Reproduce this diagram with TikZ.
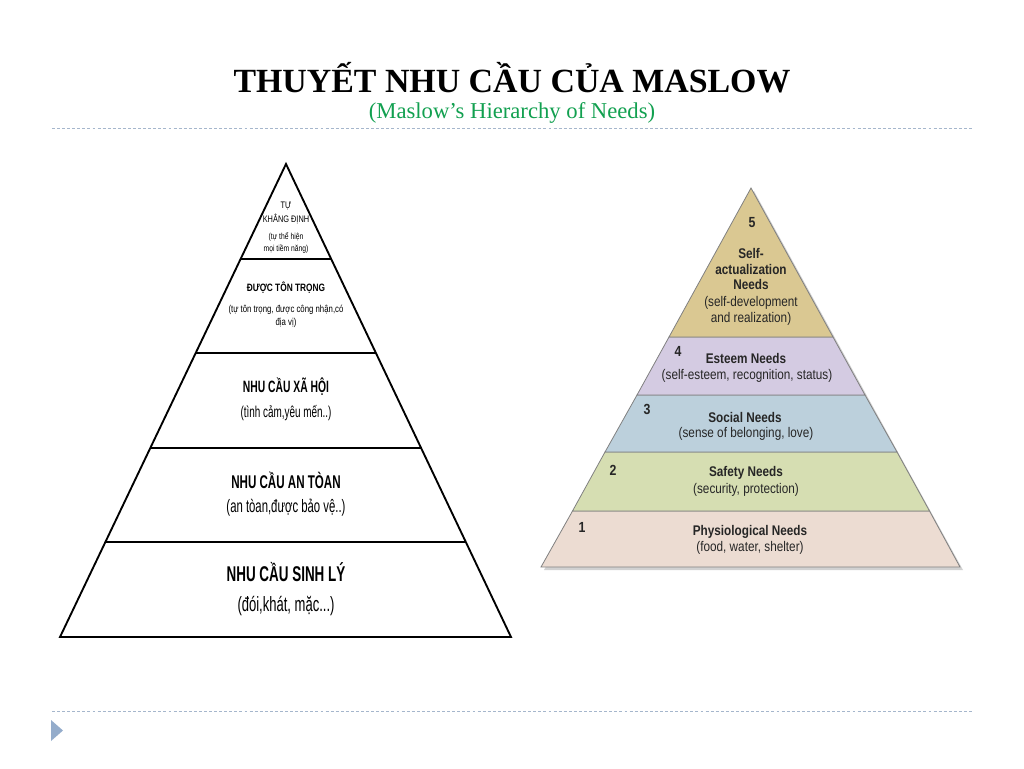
\documentclass[tikz,border=0pt]{standalone}
\usepackage{fontspec}
\setmainfont{Liberation Serif}
\newfontfamily\smallsf[FakeStretch=0.78]{Liberation Sans}
\newfontfamily\narrowsf[FakeStretch=0.63]{Liberation Sans}
\newfontfamily\condsf[FakeStretch=0.84]{Liberation Sans}
\usepackage{tikz}
\usetikzlibrary{positioning}

\definecolor{titlegreen}{RGB}{18,160,80}
\definecolor{rulegray}{RGB}{165,182,204}
\definecolor{bullet}{RGB}{148,172,203}
\definecolor{selfcol}{RGB}{218,200,146}
\definecolor{esteemcol}{RGB}{212,203,226}
\definecolor{socialcol}{RGB}{188,208,220}
\definecolor{safetycol}{RGB}{214,222,178}
\definecolor{physcol}{RGB}{236,220,210}
\definecolor{edgegray}{RGB}{128,128,128}

\tikzset{
  rule/.style={rulegray,line width=0.7pt,dash pattern=on 2.2pt off 1.6pt},
  leftline/.style={black,line width=1.4pt},
  band/.style={draw=edgegray,line width=0.6pt},
  lhead/.style={inner sep=0,align=center},
  lsub/.style={inner sep=0,align=center},
  rnum/.style={inner sep=0,font=\condsf\bfseries\fontsize{11}{12}\selectfont,text=black!85},
  rhead/.style={inner sep=0,align=center,font=\condsf\bfseries\fontsize{10.5}{11.4}\selectfont,text=black!85},
  rsub/.style={inner sep=0,align=center,font=\condsf\fontsize{10.5}{12.4}\selectfont,text=black!85}
}

\begin{document}
\begin{tikzpicture}[x=0.75pt,y=-0.75pt]
\useasboundingbox (0,0) rectangle (1024,768);

% title
\node[inner sep=0,font=\bfseries\fontsize{25.4}{29}\selectfont] (title) at (512,78) {THUYẾT NHU CẦU CỦA MASLOW};
\node[inner sep=0,text=titlegreen,font=\fontsize{17}{20}\selectfont] (subtitle) at (512,113) {(Maslow’s Hierarchy of Needs)};
\draw[rule] (52,128) -- (972,128);
\draw[rule] (52,711) -- (972,711);
\fill[bullet] (51,720) -- (63,730.5) -- (51,741) -- cycle;

% left pyramid
\draw[leftline,line join=miter] (60,637) -- (286,164) -- (511,637) -- cycle;
\draw[leftline] (241,259) -- (331,259);
\draw[leftline] (196,353) -- (376,353);
\draw[leftline] (150,448) -- (421,448);
\draw[leftline] (105,542) -- (466,542);

\node[lhead,font=\smallsf\fontsize{7.1}{10.5}\selectfont] (self) at (286,213) {TỰ\\KHẲNG ĐỊNH};
\node[lsub,font=\smallsf\fontsize{6.5}{9}\selectfont] (selfsub) at (286,243) {(tự thể hiện\\mọi tiềm năng)};
\node[lhead,font=\smallsf\bfseries\fontsize{8}{10}\selectfont] (esteem) at (286,288) {ĐƯỢC TÔN TRỌNG};
\node[lsub,font=\smallsf\fontsize{7.5}{9.8}\selectfont] (esteemsub) at (286,316) {(tự tôn trọng, được công nhận,có\\địa vị)};
\node[lhead,font=\narrowsf\bfseries\fontsize{12.3}{14}\selectfont] (social) at (286,387) {NHU CẦU XÃ HỘI};
\node[lsub,font=\narrowsf\fontsize{11.8}{14}\selectfont] (socialsub) at (286,413) {(tình cảm,yêu mến..)};
\node[lhead,font=\narrowsf\bfseries\fontsize{13.8}{16}\selectfont] (safety) at (286,480) {NHU CẦU AN TÒAN};
\node[lsub,font=\narrowsf\fontsize{13.5}{16}\selectfont] (safetysub) at (286,508) {(an tòan,được bảo vệ..)};
\node[lhead,font=\narrowsf\bfseries\fontsize{16}{18}\selectfont] (phys) at (286,572) {NHU CẦU SINH LÝ};
\node[lsub,font=\narrowsf\fontsize{15.5}{18}\selectfont] (physsub) at (286,606) {(đói,khát, mặc...)};

% right pyramid
\fill[black!18] (544,570) -- (754,191) -- (963,570) -- cycle;
\draw[band,fill=physcol] (541,567) -- (572.5,511) -- (929.5,511) -- (960,567) -- cycle;
\draw[band,fill=safetycol] (572.5,511) -- (605,452) -- (897,452) -- (929.5,511) -- cycle;
\draw[band,fill=socialcol] (605,452) -- (637,395) -- (865,395) -- (897,452) -- cycle;
\draw[band,fill=esteemcol] (637,395) -- (669,337) -- (833,337) -- (865,395) -- cycle;
\draw[band,fill=selfcol] (669,337) -- (751,188) -- (833,337) -- cycle;

\node[rnum] (n5) at (752,223) {5};
\node[rhead] (rself) at (751,269) {Self-\\actualization\\Needs};
\node[rsub] (rselfsub) at (751,311) {(self-development\\and realization)};
\node[rnum] (n4) at (678,351) {4};
\node[rhead] (resteem) at (746,358) {Esteem Needs};
\node[rsub] (resteemsub) at (747,376) {(self-esteem, recognition, status)};
\node[rnum] (n3) at (647,409) {3};
\node[rhead] (rsocial) at (745,417) {Social Needs};
\node[rsub] (rsocialsub) at (746,434) {(sense of belonging, love)};
\node[rnum] (n2) at (613,470) {2};
\node[rhead] (rsafety) at (746,473) {Safety Needs};
\node[rsub] (rsafetysub) at (746,490) {(security, protection)};
\node[rnum] (n1) at (582,527) {1};
\node[rhead] (rphys) at (750,532) {Physiological Needs};
\node[rsub] (rphyssub) at (750,548) {(food, water, shelter)};
\end{tikzpicture}
\end{document}
